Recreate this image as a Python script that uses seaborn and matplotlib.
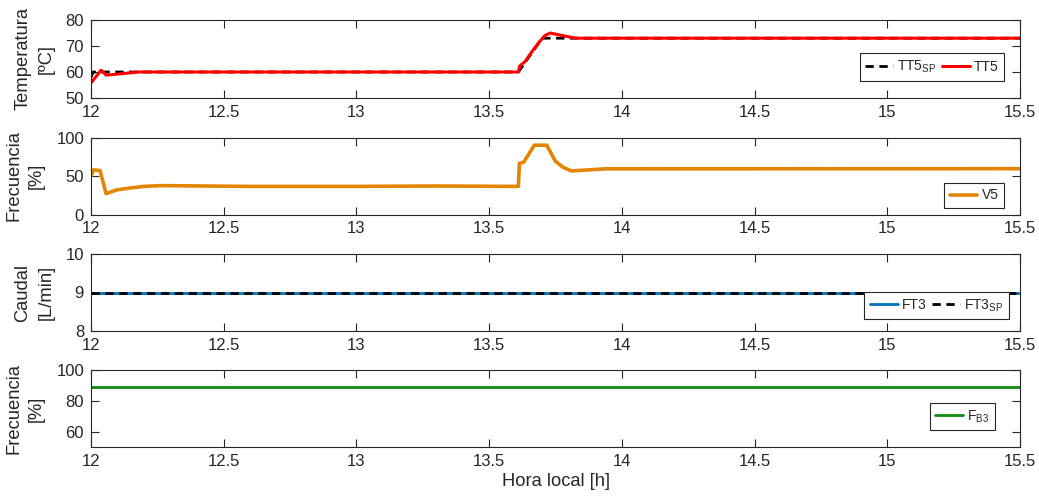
import matplotlib
matplotlib.use("Agg")
import matplotlib.pyplot as plt
import seaborn as sns

# ---- data (time in local hours) ----
t_tt5_sp = [12.0, 12.008, 13.61, 13.70, 15.5]
tt5_sp = [58.0, 60.0, 60.0, 73.0, 73.0]

t_tt5 = [12.0, 12.038, 12.057, 12.10, 12.18, 13.61, 13.615, 13.635, 13.666,
         13.69, 13.71, 13.73, 13.79, 13.83, 15.5]
tt5 = [55.8, 60.7, 58.8, 59.2, 60.0, 60.0, 62.3, 64.0, 68.5,
       71.7, 74.0, 75.0, 73.7, 73.0, 73.0]

t_v5 = [12.0, 12.01, 12.034, 12.057, 12.097, 12.16, 12.20, 12.26, 12.6, 13.0,
        13.3, 13.61, 13.614, 13.63, 13.654, 13.67, 13.717, 13.75, 13.78,
        13.81, 13.94, 15.5]
v5 = [50.0, 58.0, 57.0, 27.0, 32.0, 35.0, 36.5, 37.5, 36.5, 36.5,
      37.0, 36.5, 66.5, 67.8, 81.0, 90.0, 90.0, 69.0, 61.0,
      56.6, 59.3, 59.5]

t_ft3 = [12.0, 15.5]
ft3 = [9.0, 9.0]
ft3_sp = [9.0, 9.0]

t_fb3 = [12.0, 15.5]
fb3 = [89.0, 89.0]

xticks = [12, 12.5, 13, 13.5, 14, 14.5, 15, 15.5]
xtick_labels = ["12", "12.5", "13", "13.5", "14", "14.5", "15", "15.5"]

# ---- style ----
sns.set_style("ticks")
plt.rcParams["font.family"] = ["Liberation Sans", "DejaVu Sans"]
plt.rcParams["mathtext.default"] = "regular"
plt.rcParams["axes.edgecolor"] = "#262626"
plt.rcParams["xtick.color"] = "#262626"
plt.rcParams["ytick.color"] = "#262626"
plt.rcParams["text.color"] = "#262626"
plt.rcParams["axes.labelcolor"] = "#262626"

RED = "#ff0000"
ORANGE = "#e38500"
BLUE = "#0072bd"
GREEN = "#118a11"
DASH = (0, (3, 2))
LABEL_FS = 13.2

fig = plt.figure(figsize=(10.39, 5.03), dpi=100)
left, width = 91 / 1039, 929 / 1039
H = 503
boxes = [(20, 98), (137.5, 214.5), (254, 331), (370, 447)]
axes = [fig.add_axes([left, 1 - b / H, width, (b - t) / H]) for t, b in boxes]

ax1, ax2, ax3, ax4 = axes

sns.lineplot(x=t_tt5_sp, y=tt5_sp, ax=ax1, color="black", lw=2,
             linestyle=DASH, estimator=None, sort=False,
             label="TT5$_{SP}$")
sns.lineplot(x=t_tt5, y=tt5, ax=ax1, color=RED, lw=2.2,
             estimator=None, sort=False, label="TT5")

sns.lineplot(x=t_v5, y=v5, ax=ax2, color=ORANGE, lw=2.6,
             estimator=None, sort=False, label="V5")

sns.lineplot(x=t_ft3, y=ft3, ax=ax3, color=BLUE, lw=2,
             estimator=None, sort=False, label="FT3")
sns.lineplot(x=t_ft3, y=ft3_sp, ax=ax3, color="black", lw=2,
             linestyle=DASH, estimator=None, sort=False,
             label="FT3$_{SP}$")

sns.lineplot(x=t_fb3, y=fb3, ax=ax4, color=GREEN, lw=2,
             estimator=None, sort=False, label="F$_{B3}$")

ylims = [(50, 80), (0, 100), (8, 10), (50, 100)]
yticks = [[50, 60, 70, 80], [0, 50, 100], [8, 9, 10], [60, 80, 100]]
ylabels = ["Temperatura\n[ºC]", "Frecuencia\n[%]", "Caudal\n[L/min]",
           "Frecuencia\n[%]"]
legend_cfg = [
    dict(anchor=(0.9828, 0.222), ncol=2),
    dict(anchor=(0.9828, 0.084), ncol=1),
    dict(anchor=(0.988, 0.155), ncol=2),
    dict(anchor=(0.973, 0.22), ncol=1),
]

for ax, yl, yt, lab, lg in zip(axes, ylims, yticks, ylabels, legend_cfg):
    ax.set_xlim(12, 15.5)
    ax.set_ylim(*yl)
    ax.set_xticks(xticks)
    ax.set_xticklabels(xtick_labels)
    ax.set_yticks(yt)
    ax.set_yticklabels([str(v) for v in yt])
    ax.tick_params(direction="in", length=6, width=0.8, labelsize=12,
                   top=True, right=True, pad=5)
    for s in ax.spines.values():
        s.set_visible(True)
        s.set_linewidth(0.8)
    ax.set_ylabel(lab, fontsize=LABEL_FS, labelpad=8, linespacing=1.45)
    ax.set_xlabel("")
    leg = ax.legend(loc="lower right", bbox_to_anchor=lg["anchor"],
                    ncol=lg["ncol"], fontsize=10, frameon=True,
                    fancybox=False, framealpha=1, edgecolor="#262626",
                    borderpad=0.4, handlelength=2.0, handletextpad=0.3,
                    columnspacing=0.4, borderaxespad=0)
    leg.get_frame().set_linewidth(0.8)

ax4.set_xlabel("Hora local [h]", fontsize=LABEL_FS, labelpad=3)
fig.align_ylabels(axes)

fig.savefig("out.png", dpi=100)
